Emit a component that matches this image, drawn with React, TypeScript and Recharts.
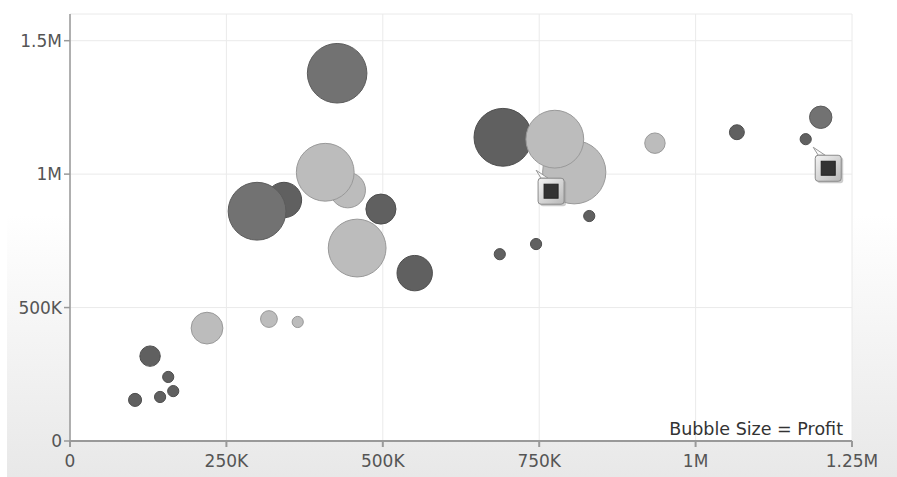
import React from 'react';
import { ScatterChart, Scatter, XAxis, YAxis, ZAxis, CartesianGrid } from 'recharts';

// axis ticks
const xTicks = [0, 250000, 500000, 750000, 1000000, 1250000];
const yTicks = [0, 500000, 1000000, 1500000];

// bubbles, grouped by shade (x, y, profit)
const darkPoints = [
  { x: 692000, y: 1138000, profit: 96000 },
  { x: 342000, y: 903000, profit: 36000 },
  { x: 497000, y: 869000, profit: 26000 },
  { x: 551000, y: 629000, profit: 36000 },
  { x: 128000, y: 318000, profit: 12000 },
  { x: 157000, y: 240000, profit: 3600 },
  { x: 165000, y: 187000, profit: 3600 },
  { x: 144000, y: 165000, profit: 3600 },
  { x: 104000, y: 154000, profit: 4900 },
  { x: 687000, y: 700000, profit: 3600 },
  { x: 745000, y: 738000, profit: 3600 },
  { x: 830000, y: 843000, profit: 3600 },
  { x: 1066000, y: 1157000, profit: 6400 },
  { x: 1176000, y: 1131000, profit: 3600 },
];

const midPoints = [
  { x: 427000, y: 1378000, profit: 102000 },
  { x: 299000, y: 861000, profit: 96000 },
  { x: 1200000, y: 1213000, profit: 14400 },
];

const lightPoints = [
  { x: 806000, y: 1007000, profit: 115000 },
  { x: 775000, y: 1131000, profit: 96000 },
  { x: 444000, y: 940000, profit: 36000 },
  { x: 408000, y: 1007000, profit: 96000 },
  { x: 459000, y: 723000, profit: 96000 },
  { x: 219000, y: 423000, profit: 29000 },
  { x: 318000, y: 457000, profit: 8100 },
  { x: 364000, y: 446000, profit: 3600 },
  { x: 935000, y: 1116000, profit: 12000 },
];

const selectedPoints = [
  { x: 769000, y: 936000, profit: 4000 },
  { x: 1212000, y: 1022000, profit: 4000 },
];

const fmt = (v: number) => {
  if (v === 0) return '0';
  if (v >= 1000000) return `${v / 1000000}M`;
  return `${v / 1000}K`;
};

const font = '"DejaVu Sans", Verdana, sans-serif';

const SelectedMarker = (props: any) => {
  const { cx, cy } = props;
  if (cx == null || cy == null) return null;
  return (
    <g>
      <defs>
        <linearGradient id="markerFill" x1="0" y1="0" x2="1" y2="1">
          <stop offset="0%" stopColor="#f4f4f4" />
          <stop offset="100%" stopColor="#b8b8b8" />
        </linearGradient>
      </defs>
      <polygon
        points={`${cx - 15},${cy - 21} ${cx - 10},${cy - 13} ${cx - 3},${cy - 13}`}
        fill="#fafafa"
        stroke="#999"
        strokeWidth={1}
      />
      <rect x={cx - 11} y={cy - 11} width={26} height={26} rx={3} fill="#9a9a9a" opacity={0.5} />
      <rect x={cx - 13} y={cy - 13} width={26} height={26} rx={3} fill="url(#markerFill)" stroke="#8a8a8a" />
      <rect x={cx - 7} y={cy - 7} width={14} height={14} fill="#333" stroke="#222" />
    </g>
  );
};

export default function App() {
  return (
    <div style={{ position: 'absolute', left: 0, top: 0, width: 897, height: 477, background: '#fff' }}>
      <div
        style={{
          position: 'absolute',
          left: 7,
          top: 0,
          width: 890,
          height: 477,
          background: 'linear-gradient(to bottom, #ffffff 0%, #ffffff 45%, #e8e8e8 100%)',
        }}
      />
      <div style={{ position: 'absolute', left: 0, top: 0 }}>
        <ScatterChart width={897} height={477} margin={{ top: 14, right: 45, left: 10, bottom: 6 }}>
          <CartesianGrid fill="#fff" stroke="#eaeaea" />
          <XAxis
            type="number"
            dataKey="x"
            domain={[0, 1250000]}
            ticks={xTicks}
            tickFormatter={fmt}
            height={30}
            stroke="#999"
            strokeWidth={2}
            tickSize={6}
            tickMargin={8}
            tick={{ fill: '#555', fontSize: 17, fontFamily: font }}
          />
          <YAxis
            type="number"
            dataKey="y"
            domain={[0, 1600000]}
            ticks={yTicks}
            tickFormatter={fmt}
            width={60}
            stroke="#999"
            strokeWidth={1.5}
            tickSize={6}
            tickMargin={2}
            tick={{ fill: '#555', fontSize: 17, fontFamily: font }}
          />
          <ZAxis type="number" dataKey="profit" domain={[0, 100000]} range={[0, 3142]} />
          <Scatter data={darkPoints} fill="#606060" stroke="#4e4e4e" isAnimationActive={false} />
          <Scatter data={midPoints} fill="#727272" stroke="#5c5c5c" isAnimationActive={false} />
          <Scatter data={lightPoints} fill="#bcbcbc" stroke="#999" isAnimationActive={false} />
          <Scatter data={selectedPoints} shape={SelectedMarker} isAnimationActive={false} />
        </ScatterChart>
      </div>
      <svg width={897} height={477} style={{ position: 'absolute', left: 0, top: 0, pointerEvents: 'none' }}>
        <text x={843} y={435} textAnchor="end" fill="#333" fontSize={17.5} fontFamily={font}>
          Bubble Size = Profit
        </text>
      </svg>
    </div>
  );
}
